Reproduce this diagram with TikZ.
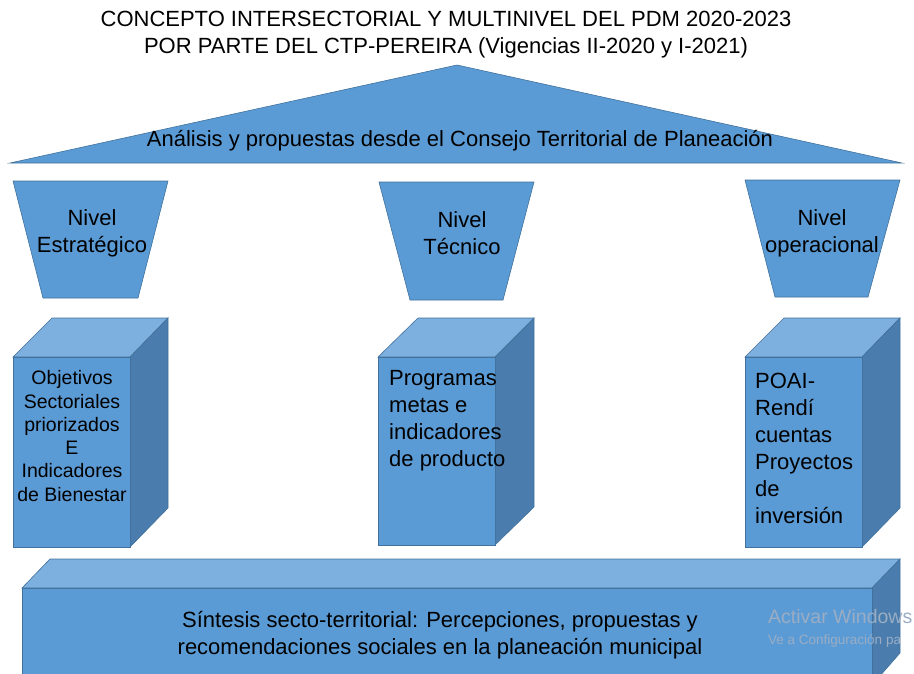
\documentclass[tikz,border=0pt]{standalone}
\usepackage{fontspec}
\setmainfont{Liberation Sans}
\usetikzlibrary{positioning}
\definecolor{frontblue}{HTML}{5B9BD5}
\definecolor{topblue}{HTML}{7DB0DF}
\definecolor{sideblue}{HTML}{4A7DAD}
\definecolor{edgeblue}{HTML}{41719C}
\definecolor{markgray}{HTML}{9AADC4}
\tikzset{
  frontface/.style={fill=frontblue, draw=edgeblue, line width=.6pt},
  topface/.style={fill=topblue, draw=edgeblue, line width=.6pt},
  sideface/.style={fill=sideblue, draw=edgeblue, line width=.6pt},
  bigtext/.style={font=\fontsize{22}{27}\selectfont, inner sep=0pt},
  smalltext/.style={font=\fontsize{19.5}{23.3}\selectfont, inner sep=0pt}
}

\begin{document}
\begin{tikzpicture}[x=1pt, y=-1pt]
\useasboundingbox (0,0) rectangle (914,673);
% title
\node[bigtext, align=center] (title) at (446,35) {CONCEPTO INTERSECTORIAL Y MULTINIVEL DEL PDM 2020-2023\\POR PARTE DEL CTP-PEREIRA (Vigencias II-2020 y I-2021)};
% the roof
\draw[frontface] (457,65) -- (902,163) -- (10,163) -- cycle;
\node[bigtext] (roof) at (460,141) {Análisis y propuestas desde el Consejo Territorial de Planeación};
% the three levels
\draw[frontface] (13,181) -- (168,181) -- (138,298) -- (43,298) -- cycle;
\draw[frontface] (379,182) -- (534,182) -- (503,300) -- (410,300) -- cycle;
\draw[frontface] (745,180) -- (900,180) -- (868,297) -- (775,297) -- cycle;
\node[bigtext, align=center] (estrategico) at (92,233) {Nivel\\Estratégico};
\node[bigtext, align=center] (tecnico) at (462,233) {Nivel\\Técnico};
\node[bigtext, align=center] (operacional) at (822,233) {Nivel\\operacional};
% the columns
%     left column
\draw[topface] (13,357) -- (52,318) -- (168,318) -- (130,357) -- cycle;
\draw[sideface] (130,357) -- (168,318) -- (168,508) -- (130,547) -- cycle;
\draw[frontface] (13,357) rectangle (130,547);
%     middle column
\draw[topface] (378,357) -- (418,318) -- (534,318) -- (495,357) -- cycle;
\draw[sideface] (495,357) -- (534,318) -- (534,507) -- (495,545) -- cycle;
\draw[frontface] (378,357) rectangle (495,545);
%     right column
\draw[topface] (745,357) -- (784,318) -- (900,318) -- (862,357) -- cycle;
\draw[sideface] (862,357) -- (900,318) -- (900,508) -- (862,547) -- cycle;
\draw[frontface] (745,357) rectangle (862,547);
\node[smalltext, align=center] (objetivos) at (72,436) {Objetivos\\Sectoriales\\priorizados\\E\\Indicadores\\de Bienestar};
\node[bigtext, align=left, anchor=west] (programas) at (389,421) {Programas\\metas e\\indicadores\\de producto};
\node[bigtext, align=left, anchor=west] (poai) at (755,448) {POAI-\\Rendí\\cuentas\\Proyectos\\de\\inversión};
% the base
\draw[topface] (22,588) -- (50,559) -- (900,559) -- (872,588) -- cycle;
\draw[sideface] (872,588) -- (900,559) -- (900,653) -- (872,685) -- cycle;
\draw[frontface] (22,588) rectangle (872,690);
\node[bigtext, align=center] (sintesis) at (440,635) {Síntesis secto-territorial: Percepciones, propuestas y\\recomendaciones sociales en la planeación municipal};
% watermark
\node[font=\fontsize{19.5}{21}\selectfont, text=markgray, anchor=base west, inner sep=0pt] (activar) at (768,623) {Activar Windows};
\node[font=\fontsize{13.5}{15}\selectfont, text=markgray, anchor=base west, inner sep=0pt] (configuracion) at (768,644) {Ve a Configuración pa};
\end{tikzpicture}
\end{document}
